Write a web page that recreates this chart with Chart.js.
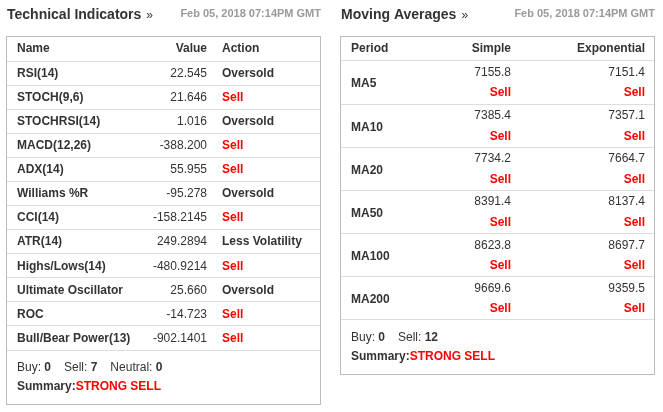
<!DOCTYPE html>
<html>
<head>
<meta charset="utf-8">
<script src="https://cdn.jsdelivr.net/npm/chart.js@4.4.1/dist/chart.umd.min.js"></script>
<style>
body { margin: 0; background: #fff; }
#wrap { position: relative; width: 663px; height: 412px; }
#techChart { position: absolute; left: 0; top: 0; }
#maChart { position: absolute; left: 331px; top: 0; }
</style>
</head>
<body>
<div id="wrap">
<canvas id="techChart" width="331" height="412"></canvas>
<canvas id="maChart" width="332" height="412"></canvas>
</div>
<script>
const stamp = 'Feb 05, 2018 07:14PM GMT';
const summaryText = 'STRONG SELL';

// technical indicators table
const techNames = ['RSI(14)', 'STOCH(9,6)', 'STOCHRSI(14)', 'MACD(12,26)', 'ADX(14)', 'Williams %R',
  'CCI(14)', 'ATR(14)', 'Highs/Lows(14)', 'Ultimate Oscillator', 'ROC', 'Bull/Bear Power(13)'];
const techValues = ['22.545', '21.646', '1.016', '-388.200', '55.955', '-95.278',
  '-158.2145', '249.2894', '-480.9214', '25.660', '-14.723', '-902.1401'];
const techActions = ['Oversold', 'Sell', 'Oversold', 'Sell', 'Sell', 'Oversold',
  'Sell', 'Less Volatility', 'Sell', 'Oversold', 'Sell', 'Sell'];
const techCounts = [['Buy', 0], ['Sell', 7], ['Neutral', 0]];

// moving averages table
const maPeriods = ['MA5', 'MA10', 'MA20', 'MA50', 'MA100', 'MA200'];
const maSimple = ['7155.8', '7385.4', '7734.2', '8391.4', '8623.8', '9669.6'];
const maSimpleAction = ['Sell', 'Sell', 'Sell', 'Sell', 'Sell', 'Sell'];
const maExp = ['7151.4', '7357.1', '7664.7', '8137.4', '8697.7', '9359.5'];
const maExpAction = ['Sell', 'Sell', 'Sell', 'Sell', 'Sell', 'Sell'];
const maCounts = [['Buy', 0], ['Sell', 12]];

const FAMILY = "'Liberation Sans', Arial, Helvetica, sans-serif";
const DARK = '#333';
const RED = '#f00';
const BOX_TOP = 36;

function font(size, bold) {
  return (bold ? 'bold ' : '') + size + 'px ' + FAMILY;
}

function txt(ctx, s, x, y, size, bold, color, align) {
  ctx.font = font(size, bold);
  ctx.fillStyle = color;
  ctx.textAlign = align || 'left';
  ctx.textBaseline = 'middle';
  ctx.fillText(s, x, y);
  return ctx.measureText(s).width;
}

function actionColor(a) {
  return a === 'Sell' ? RED : DARK;
}

function drawFrame(ctx, a, title) {
  // title + timestamp
  ctx.textBaseline = 'alphabetic';
  ctx.textAlign = 'left';
  ctx.font = font(14, true);
  ctx.fillStyle = DARK;
  ctx.fillText(title, a.left + 1, 19);
  const w = ctx.measureText(title).width;
  ctx.font = font(12, false);
  ctx.fillText('\u00bb', a.left + w + 6, 19);
  ctx.font = font(11, true);
  ctx.fillStyle = '#999';
  ctx.textAlign = 'right';
  ctx.fillText(stamp, a.right, 17);
  // box
  ctx.strokeStyle = '#bbb';
  ctx.lineWidth = 1;
  ctx.strokeRect(a.left + 0.5, BOX_TOP + 0.5, a.right - a.left - 1, a.bottom + 54 - BOX_TOP);
}

function drawFooter(ctx, a, counts, left) {
  let x = left;
  const y1 = a.bottom + 18;
  counts.forEach(([k, v]) => {
    x += txt(ctx, k + ': ', x, y1, 12, false, DARK);
    x += txt(ctx, String(v), x, y1, 12, true, DARK);
    x += 13;
  });
  const y2 = a.bottom + 37;
  const w = txt(ctx, 'Summary:', left, y2, 12, true, DARK);
  txt(ctx, summaryText, left + w, y2, 12, true, RED);
}

const techPlugin = {
  id: 'techTable',
  afterDraw(chart) {
    const { ctx, chartArea: a, scales: { y } } = chart;
    ctx.save();
    drawFrame(ctx, a, 'Technical Indicators');
    const hy = (BOX_TOP + a.top) / 2 + 0.5;
    const cName = a.left + 11, cVal = a.left + 201, cAct = a.left + 216;
    txt(ctx, 'Name', cName, hy, 12, true, DARK);
    txt(ctx, 'Value', cVal, hy, 12, true, DARK, 'right');
    txt(ctx, 'Action', cAct, hy, 12, true, DARK);
    techNames.forEach((n, i) => {
      const py = y.getPixelForValue(i) + 0.5;
      txt(ctx, n, cName, py, 12, true, DARK);
      txt(ctx, techValues[i], cVal, py, 12, false, DARK, 'right');
      txt(ctx, techActions[i], cAct, py, 12, true, actionColor(techActions[i]));
    });
    drawFooter(ctx, a, techCounts, cName);
    ctx.restore();
  }
};

const maPlugin = {
  id: 'maTable',
  afterDraw(chart) {
    const { ctx, chartArea: a, scales: { y } } = chart;
    ctx.save();
    drawFrame(ctx, a, 'Moving Averages');
    const hy = (BOX_TOP + a.top) / 2 + 0.5;
    const cName = a.left + 11, cSim = a.left + 171, cExp = a.left + 305;
    txt(ctx, 'Period', cName, hy, 12, true, DARK);
    txt(ctx, 'Simple', cSim, hy, 12, true, DARK, 'right');
    txt(ctx, 'Exponential', cExp, hy, 12, true, DARK, 'right');
    maPeriods.forEach((p, i) => {
      const py = y.getPixelForValue(i);
      txt(ctx, p, cName, py + 1.5, 12, true, DARK);
      txt(ctx, maSimple[i], cSim, py - 10, 12, false, DARK, 'right');
      txt(ctx, maSimpleAction[i], cSim, py + 10.5, 12, true, actionColor(maSimpleAction[i]), 'right');
      txt(ctx, maExp[i], cExp, py - 10, 12, false, DARK, 'right');
      txt(ctx, maExpAction[i], cExp, py + 10.5, 12, true, actionColor(maExpAction[i]), 'right');
    });
    drawFooter(ctx, a, maCounts, cName);
    ctx.restore();
  }
};

function tableConfig(labels, values, padding, plugin) {
  return {
    type: 'bar',
    data: {
      labels: labels,
      datasets: [{
        data: values.map(Number),
        backgroundColor: 'rgba(0,0,0,0)',
        borderWidth: 0
      }]
    },
    options: {
      indexAxis: 'y',
      responsive: false,
      animation: false,
      layout: { padding: padding },
      plugins: { legend: { display: false }, tooltip: { enabled: false } },
      scales: {
        x: { display: false },
        y: {
          type: 'category',
          offset: true,
          border: { display: false },
          ticks: { display: false },
          grid: { offset: true, drawTicks: false, color: '#ddd', lineWidth: 1 }
        }
      }
    },
    plugins: [plugin]
  };
}

new Chart(document.getElementById('techChart'),
  tableConfig(techNames, techValues, { left: 6, right: 10, top: 61, bottom: 62 }, techPlugin));

new Chart(document.getElementById('maChart'),
  tableConfig(maPeriods, maSimple, { left: 9, right: 8, top: 61, bottom: 92 }, maPlugin));
</script>
</body>
</html>
